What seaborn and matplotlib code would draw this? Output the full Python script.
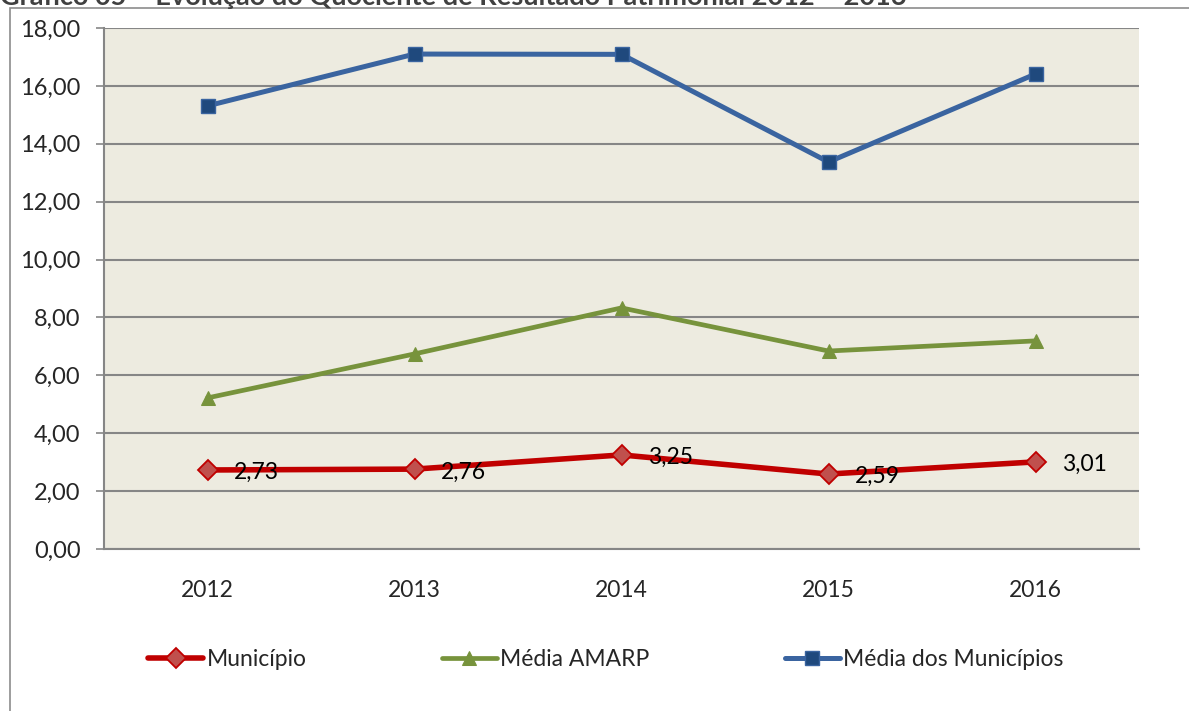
import matplotlib
matplotlib.use("Agg")
import matplotlib.pyplot as plt
import matplotlib.patches as mpatches
from matplotlib.ticker import FuncFormatter, MultipleLocator
import seaborn as sns

# ---------------------------
# data
# ---------------------------
anos = ["2012", "2013", "2014", "2015", "2016"]
municipio = [2.73, 2.76, 3.25, 2.59, 3.01]
media_amarp = [5.22, 6.74, 8.33, 6.84, 7.19]
media_municipios = [15.31, 17.10, 17.09, 13.37, 16.41]

titulo = "Gráfico 05 – Evolução do Quociente de Resultado Patrimonial 2012 – 2016"


def br(v, pos=None):
    return f"{v:.2f}".replace(".", ",")


sns.set_style("white")
plt.rcParams["font.family"] = ["Lato", "DejaVu Sans"]

fig = plt.figure(figsize=(11.89, 7.11), dpi=100)
ax = fig.add_axes([104 / 1189, 1 - 549 / 711, 1035 / 1189, 521 / 711])
ax.set_facecolor("#EDEBE0")

# outer chart frame (cropped on right and bottom, like the source)
frame = mpatches.Rectangle((10 / 1189, -0.1), 1.2, 1 - 8 / 711 + 0.1,
                           transform=fig.transFigure, fill=False,
                           edgecolor="#8C8C8C", linewidth=1.2, zorder=0)
fig.patches.append(frame)
# title only partly visible at the top edge
fig.text(0.0, 1 - 5 / 711, titulo, fontsize=19.5, fontweight="bold",
         color="#404040", va="baseline", ha="left")

sns.lineplot(x=anos, y=media_municipios, ax=ax, color="#3A64A0", linewidth=3.6,
             marker="s", markersize=10, markerfacecolor="#1F497D",
             markeredgecolor="#3A64A0", markeredgewidth=1,
             label="Média dos Municípios", zorder=3)
sns.lineplot(x=anos, y=media_amarp, ax=ax, color="#77933C", linewidth=3.4,
             marker="^", markersize=10, markerfacecolor="#77933C",
             markeredgecolor="#77933C", label="Média AMARP", zorder=3)
sns.lineplot(x=anos, y=municipio, ax=ax, color="#C00000", linewidth=4.0,
             marker="D", markersize=10, markerfacecolor="#C0504D",
             markeredgecolor="#C00000", markeredgewidth=1.3,
             label="Município", zorder=4)

for i, v in enumerate(municipio):
    ax.annotate(br(v), (i, v), xytext=(19, -2), textcoords="offset points",
                fontsize=16.5, va="center", ha="left", color="black", zorder=5)

ax.set_xlim(-0.5, 4.5)
ax.set_ylim(0, 18)
ax.yaxis.set_major_locator(MultipleLocator(2))
ax.yaxis.set_major_formatter(FuncFormatter(br))
ax.yaxis.grid(True, color="#868686", linewidth=1.5)
ax.xaxis.grid(False)
ax.set_axisbelow(True)
ax.set_xlabel("")
ax.set_ylabel("")

for side in ["top", "right"]:
    ax.spines[side].set_visible(False)
for side in ["left", "bottom"]:
    ax.spines[side].set_color("#868686")
    ax.spines[side].set_linewidth(1.5)

ax.tick_params(axis="y", which="major", length=6, width=1.2, color="#868686",
               labelsize=17, pad=11, left=True, direction="out")
ax.tick_params(axis="x", length=0, labelsize=16.5, pad=22)

handles, labels = ax.get_legend_handles_labels()
order = [2, 1, 0]
ax.legend_.remove()
fig.legend([handles[i] for i in order], [labels[i] for i in order],
           loc="center", bbox_to_anchor=(606 / 1189, 1 - 660 / 711), ncol=3,
           frameon=False, fontsize=16.5, handlelength=2.4, handletextpad=0.15,
           columnspacing=5.9, markerscale=1.0)

fig.savefig("out.png", dpi=100)
